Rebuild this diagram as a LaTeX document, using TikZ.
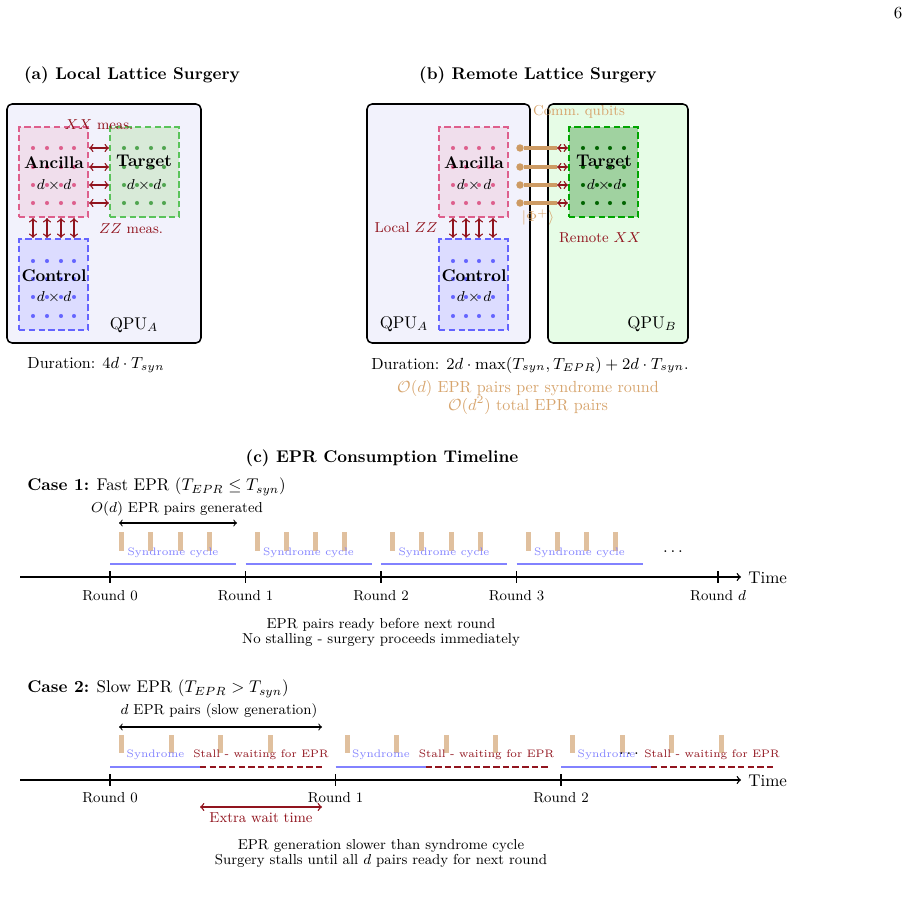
\RequirePackage{fix-cm}
\documentclass[tikz,border=0pt]{standalone}
\usetikzlibrary{fit}
\newcommand\fmid{\fontsize{9.5}{11.5}\selectfont}
\newcommand\fsml{\fontsize{8.5}{10}\selectfont}
\newcommand\ftny{\fontsize{6.4}{7.5}\selectfont}
\definecolor{darkred}{RGB}{145,20,30}
\definecolor{ancBorder}{RGB}{222,95,140}
\definecolor{ancFill}{RGB}{240,222,236}
\definecolor{tgtBorderA}{RGB}{90,195,90}
\definecolor{tgtFillA}{RGB}{216,234,216}
\definecolor{tgtDotA}{RGB}{80,165,80}
\definecolor{tgtBorderB}{RGB}{0,165,0}
\definecolor{tgtFillB}{RGB}{160,210,160}
\definecolor{tgtDotB}{RGB}{0,100,0}
\definecolor{ctlBorder}{RGB}{100,100,255}
\definecolor{ctlFill}{RGB}{220,220,255}
\definecolor{qpuAFill}{RGB}{242,242,252}
\definecolor{qpuBFill}{RGB}{230,252,230}
\definecolor{tanc}{RGB}{205,155,100}
\definecolor{tanbar}{RGB}{224,192,158}
\definecolor{tantext}{RGB}{215,165,110}
\definecolor{synblue}{RGB}{130,130,255}
\begin{document}
\begin{tikzpicture}[x=0.59pt,y=-0.59pt,
  qpu/.style={draw=black, line width=0.9pt, rounded corners=3pt, inner sep=0pt},
  patch/.style={line width=1.25pt, dash pattern=on 3.8pt off 2pt, inner sep=0pt},
  qdot/.style={circle, fill, inner sep=0pt, minimum size=2.4pt},
  meas/.style={<->, darkred, line width=0.8pt},
  bar/.style={fill=tanbar, draw=none},
  synline/.style={synblue, line width=0.9pt},
  stall/.style={darkred, line width=0.9pt, dash pattern=on 3.8pt off 1.9pt},
  axis/.style={->, line width=0.8pt},
  tick/.style={line width=0.8pt},
  lbl/.style={inner sep=0pt}
]
\useasboundingbox (0,0) rectangle (910,905);
\node[lbl] (pagenum) at (898,13) {6};

% ---------- (a) ----------
\node[lbl,font=\bfseries] (titleA) at (132,75) {(a) Local Lattice Surgery};
\node[qpu, fill=qpuAFill, fit={(7,104)(201,343)}] (qpuA) {};
\node[patch, draw=ancBorder, fill=ancFill, fit={(19,127)(88,217)}] (ancA) {};
\node[patch, draw=tgtBorderA, fill=tgtFillA, fit={(110,127)(179,217)}] (tgtA) {};
\node[patch, draw=ctlBorder, fill=ctlFill, fit={(19,239)(88,330)}] (ctlA) {};
\foreach \x in {33,47,61,74} \foreach \y in {148,167,185,203}
  \node[qdot, ancBorder] (aa\x-\y) at (\x,\y) {};
\foreach \x in {124,137,151,164} \foreach \y in {148,167,185,203}
  \node[qdot, tgtDotA] (ta\x-\y) at (\x,\y) {};
\foreach \x in {33,47,61,74} \foreach \y in {261,279,297,316}
  \node[qdot, ctlBorder] (ca\x-\y) at (\x,\y) {};
\node[lbl,font=\bfseries] (ancAl) at (54,163) {Ancilla};
\node[lbl,font=\fsml] (ancAd) at (54,185) {$d\times d$};
\node[lbl,font=\bfseries] (tgtAl) at (144,162) {Target};
\node[lbl,font=\fsml] (tgtAd) at (144,185) {$d\times d$};
\node[lbl,font=\bfseries] (ctlAl) at (54,276) {Control};
\node[lbl,font=\fsml] (ctlAd) at (54,297) {$d\times d$};
\foreach \y in {148,167,185,203}
  \draw[meas] (ancA.east |- 0,\y) -- (tgtA.west |- 0,\y);
\foreach \x in {33,47,61,74}
  \draw[meas] (ancA.south -| \x,0) -- (ctlA.north -| \x,0);
\node[lbl,font=\fsml,text=darkred] (xxA) at (99,125) {$XX$ meas.};
\node[lbl,font=\fsml,text=darkred] (zzA) at (131,229) {$ZZ$ meas.};
\node[lbl] (qpuAl) at (134,325) {QPU$_A$};
\node[lbl,font=\fmid] (durA) at (96,365) {Duration: $4d\cdot T_{syn}$};

% ---------- (b) ----------
\node[lbl,font=\bfseries] (titleB) at (538,75) {(b) Remote Lattice Surgery};
\node[qpu, fill=qpuAFill, fit={(367,104)(530,343)}] (qpuB1) {};
\node[qpu, fill=qpuBFill, fit={(548,104)(688,343)}] (qpuB2) {};
\node[patch, draw=ancBorder, fill=ancFill, fit={(439,127)(508,217)}] (ancB) {};
\node[patch, draw=tgtBorderB, fill=tgtFillB, fit={(569,127)(638,217)}] (tgtB) {};
\node[patch, draw=ctlBorder, fill=ctlFill, fit={(439,239)(508,330)}] (ctlB) {};
\foreach \x in {453,466,479,493} \foreach \y in {148,167,185,203}
  \node[qdot, ancBorder] (ab\x-\y) at (\x,\y) {};
\foreach \x in {583,597,610,624} \foreach \y in {148,167,185,203}
  \node[qdot, tgtDotB] (tb\x-\y) at (\x,\y) {};
\foreach \x in {453,466,479,493} \foreach \y in {261,279,297,316}
  \node[qdot, ctlBorder] (cb\x-\y) at (\x,\y) {};
\node[lbl,font=\bfseries] (ancBl) at (474,163) {Ancilla};
\node[lbl,font=\fsml] (ancBd) at (474,185) {$d\times d$};
\node[lbl,font=\bfseries] (tgtBl) at (604,162) {Target};
\node[lbl,font=\fsml] (tgtBd) at (604,185) {$d\times d$};
\node[lbl,font=\bfseries] (ctlBl) at (474,276) {Control};
\node[lbl,font=\fsml] (ctlBd) at (474,297) {$d\times d$};
\foreach \y in {148,167,185,203} {
  \node[circle, fill=tanc, inner sep=0pt, minimum size=4.4pt] (cq\y) at (520,\y) {};
  \coordinate (ce\y) at (557,\y);
  \draw[tanc, line width=1.9pt] (cq\y) -- (ce\y);
  \draw[<->, darkred, line width=0.8pt] (ce\y) -- (tgtB.west |- 0,\y);
}
\foreach \x in {453,466,479,493}
  \draw[meas] (ancB.south -| \x,0) -- (ctlB.north -| \x,0);
\node[lbl,font=\fsml,text=tantext] (commq) at (579,112) {Comm.\ qubits};
\node[lbl,font=\fsml,text=tantext] (phip) at (538,217) {$|\Phi^+\rangle$};
\node[lbl,font=\fsml,text=darkred] (localzz) at (406,228) {Local $ZZ$};
\node[lbl,font=\fsml,text=darkred] (remotexx) at (600,238) {Remote $XX$};
\node[lbl] (qpuBl1) at (404,324) {QPU$_A$};
\node[lbl] (qpuBl2) at (652,324) {QPU$_B$};
\node[lbl,font=\fmid] (durB) at (530,365) {Duration: $2d\cdot\max(T_{syn},T_{EPR})+2d\cdot T_{syn}$.};
\node[lbl,font=\fmid,text=tantext] (eprB1) at (528,388) {$\mathcal{O}(d)$ EPR pairs per syndrome round};
\node[lbl,font=\fmid,text=tantext] (eprB2) at (528,405) {$\mathcal{O}(d^2)$ total EPR pairs};

% ---------- (c) ----------
\node[lbl,font=\bfseries] (titleC) at (382,458) {(c) EPR Consumption Timeline};
% Case 1
\node[lbl,anchor=west] (case1) at (27,487) {\textbf{Case 1:} Fast EPR ($T_{EPR}\leq T_{syn}$)};
\node[lbl,font=\fsml] (gen1) at (177,509) {$O(d)$ EPR pairs generated};
\coordinate (g1s) at (119,523); \coordinate (g1e) at (237,523);
\draw[<->, line width=0.6pt] (g1s) -- (g1e);
\foreach \r [count=\i] in {110,245.5,381,516.5} {
  \foreach \k in {0,1,2,3}
    \fill[bar] (\r+9+29.3*\k,532) rectangle ++(5,19);
  \coordinate (s1a\i) at (\r,564); \coordinate (s1b\i) at (\r+126,564);
  \draw[synline] (s1a\i) -- (s1b\i);
  \node[lbl,font=\ftny,text=synblue] (sc1\i) at (\r+63,553) {Syndrome cycle};
}
\node[lbl] (dots1) at (673,552) {$\dots$};
\coordinate (ax1s) at (20,577); \coordinate (ax1e) at (741,577);
\draw[axis] (ax1s) -- (ax1e);
\node[lbl,anchor=west] (time1) at (748,578) {Time};
\foreach \r/\t [count=\i] in {110/Round 0,245.5/Round 1,381/Round 2,516.5/Round 3,718/Round $d$} {
  \draw[tick] (\r,571) -- (\r,583);
  \node[lbl,font=\fsml] (rl1\i) at (\r,596) {\t};
}
\node[lbl,font=\fsml] (note1a) at (381,625) {EPR pairs ready before next round};
\node[lbl,font=\fsml] (note1b) at (381,640) {No stalling - surgery proceeds immediately};

% Case 2
\node[lbl,anchor=west] (case2) at (27,689) {\textbf{Case 2:} Slow EPR ($T_{EPR}>T_{syn}$)};
\node[lbl,font=\fsml] (gen2) at (219,711) {$d$ EPR pairs (slow generation)};
\coordinate (g2s) at (119,727); \coordinate (g2e) at (322,727);
\draw[<->, line width=0.6pt] (g2s) -- (g2e);
\foreach \r [count=\i] in {110,335.5,561} {
  \foreach \k in {0,1,2,3}
    \fill[bar] (\r+9+49.5*\k,735) rectangle ++(5,18);
  \coordinate (s2a\i) at (\r,767); \coordinate (s2b\i) at (\r+90,767); \coordinate (s2c\i) at (\r+212,767);
  \draw[synline] (s2a\i) -- (s2b\i);
  \draw[stall] (s2b\i) -- (s2c\i);
  \node[lbl,font=\ftny,text=synblue] (sy2\i) at (\r+45.5,755) {Syndrome};
  \node[lbl,font=\ftny,text=darkred] (st2\i) at (\r+151,755) {Stall - waiting for EPR};
}
\node[lbl] (dots2) at (629,754) {$\dots$};
\coordinate (ax2s) at (20,780); \coordinate (ax2e) at (741,780);
\draw[axis] (ax2s) -- (ax2e);
\node[lbl,anchor=west] (time2) at (748,781) {Time};
\foreach \r/\t [count=\i] in {110/Round 0,335.5/Round 1,561/Round 2} {
  \draw[tick] (\r,774) -- (\r,786);
  \node[lbl,font=\fsml] (rl2\i) at (\r,798) {\t};
}
\coordinate (ws) at (200,807); \coordinate (we) at (322,807);
\draw[<->, darkred, line width=0.8pt] (ws) -- (we);
\node[lbl,font=\fsml,text=darkred] (wait) at (261,818) {Extra wait time};
\node[lbl,font=\fsml] (note2a) at (381,846) {EPR generation slower than syndrome cycle};
\node[lbl,font=\fsml] (note2b) at (381,861) {Surgery stalls until all $d$ pairs ready for next round};
\end{tikzpicture}
\end{document}
